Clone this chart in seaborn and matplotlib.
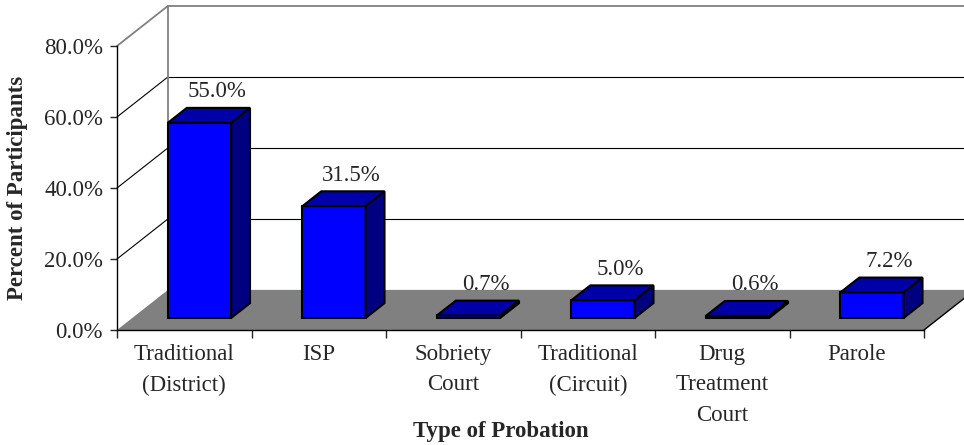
import matplotlib
matplotlib.use("Agg")
import matplotlib.pyplot as plt
from matplotlib.patches import Polygon
import seaborn as sns

# Datos
categorias = ["Traditional\n(District)", "ISP", "Sobriety\nCourt",
              "Traditional\n(Circuit)", "Drug\nTreatment\nCourt", "Parole"]
valores = [55.0, 31.5, 0.7, 5.0, 0.6, 7.2]
yticks = [0, 20, 40, 60, 80]

# Efecto 3D (profundidad en unidades de datos)
DX = 0.379     # desplazamiento horizontal de la pared trasera
DY = 11.3      # desplazamiento vertical (en %)
D0, D1 = 0.30, 0.67   # profundidad frontal / trasera de las barras
ANCHO = 0.47

sns.set_style("white")
plt.rcParams["font.family"] = ["Liberation Serif", "DejaVu Serif"]
plt.rcParams["font.size"] = 16.5

fig = plt.figure(figsize=(9.64, 4.45), dpi=100)
W, H = 964, 445
ax = fig.add_axes([117 / W, (H - 330) / H, 807 / W, 284 / H])
ax.set_facecolor("none")

n = len(valores)
sns.barplot(x=list(range(n)), y=valores, width=ANCHO, color="#0000FF",
            saturation=1, edgecolor="black", linewidth=1.5, ax=ax, zorder=5)

# suelo gris
x_izq, x_der = -0.5, n - 0.5
suelo = Polygon([(x_izq, 0), (x_der, 0), (x_der + DX, DY), (x_izq + DX, DY)],
                closed=True, facecolor="#808080", edgecolor="none",
                zorder=1, clip_on=False)
ax.add_patch(suelo)
ax.plot([x_der, x_der + DX], [0, DY], color="black", lw=1, zorder=2, clip_on=False)

# pared trasera y lateral
for v in yticks[1:]:
    col = "#808080" if v == yticks[-1] else "black"
    lw = 1.3 if v == yticks[-1] else 0.8
    ax.plot([x_izq, x_izq + DX], [v, v + DY], color=col, lw=lw, zorder=0.5, clip_on=False)
    ax.plot([x_izq + DX, x_der + DX], [v + DY, v + DY], color=col, lw=lw,
            zorder=0.5, clip_on=False)
ax.plot([x_izq + DX, x_izq + DX], [DY, yticks[-1] + DY], color="#808080", lw=1.3,
        zorder=0.5, clip_on=False)

# caras superior y lateral de cada barra
dd = D1 - D0
for i, (p, v) in enumerate(zip(ax.patches, valores)):
    p.set_x(p.get_x() + D0 * DX)
    p.set_y(D0 * DY)
    p.set_height(v)
    p.set_clip_on(False)
    x0 = p.get_x()
    x1 = x0 + p.get_width()
    y0 = p.get_y()
    y1 = y0 + p.get_height()
    tapa = Polygon([(x0, y1), (x1, y1), (x1 + dd * DX, y1 + dd * DY), (x0 + dd * DX, y1 + dd * DY)],
                   closed=True, facecolor="#0000A8", edgecolor="black", lw=1.5,
                   zorder=5, clip_on=False)
    lado = Polygon([(x1, y0), (x1 + dd * DX, y0 + dd * DY), (x1 + dd * DX, y1 + dd * DY), (x1, y1)],
                   closed=True, facecolor="#000080", edgecolor="black", lw=1.5,
                   zorder=5, clip_on=False)
    ax.add_patch(tapa)
    ax.add_patch(lado)
    ax.annotate(f"{v:.1f}%", xy=(i + D1 * DX * 0.95, v + D1 * DY),
                xytext=(0, 4), textcoords="offset points",
                ha="center", va="bottom", zorder=6)

# ejes
ax.set_xlim(x_izq, x_der)
ax.set_ylim(0, 80)
ax.set_yticks(yticks)
ax.set_yticklabels([f"{v:.1f}%" for v in yticks])
ax.set_xticks([i - 0.5 for i in range(n + 1)])
ax.set_xticklabels([""] * (n + 1))
ax.set_xticks(list(range(n)), minor=True)
ax.set_xticklabels(categorias, minor=True, linespacing=1.6)
ax.tick_params(axis="x", which="major", length=6, width=1, direction="out", bottom=True)
ax.tick_params(axis="x", which="minor", length=0, pad=10)
ax.tick_params(axis="y", length=5, width=1, direction="out", left=True, pad=5)
for s in ["top", "right"]:
    ax.spines[s].set_visible(False)
for s in ["left", "bottom"]:
    ax.spines[s].set_color("black")
    ax.spines[s].set_linewidth(1)
    ax.spines[s].set_zorder(3)

ax.set_xlabel("Type of Probation", fontweight="bold")
ax.set_ylabel("Percent of Participants", fontweight="bold")
ax.xaxis.set_label_coords((501 - 117) / 807, (330 - 421) / 284)
ax.yaxis.set_label_coords((28 - 117) / 807, 0.5)

fig.savefig("out.png", dpi=100)
plt.close(fig)
